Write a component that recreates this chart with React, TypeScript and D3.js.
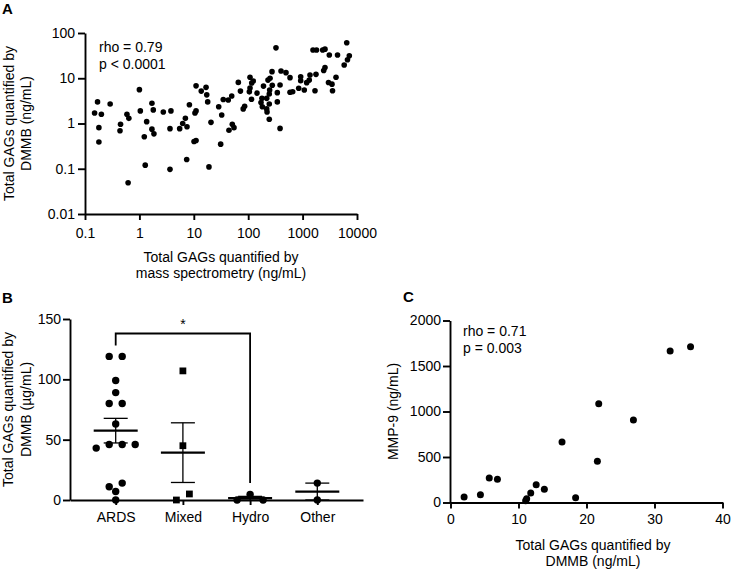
import React, { useEffect, useRef } from "react";
import * as d3 from "d3";

// Panel A: [GAGs by mass spectrometry, GAGs by DMMB] (ng/mL)
const msVsDmmb: [number, number][] = [
  [0.15, 1.7], [0.17, 3.0], [0.2, 1.6], [0.18, 0.81], [0.18, 0.39], [0.29, 2.7],
  [0.45, 0.96], [0.44, 0.69], [0.59, 1.6], [0.64, 1.3], [1.0, 5.6], [1.04, 1.9],
  [1.36, 1.1], [1.23, 0.51], [1.28, 0.12], [0.62, 0.049], [1.7, 2.8], [1.8, 2.0],
  [1.7, 0.75], [1.85, 0.59], [2.75, 1.8], [3.8, 1.9], [3.65, 0.77], [3.65, 0.097],
  [5.5, 0.77], [6.25, 1.0], [7.0, 1.3], [7.5, 0.85], [8.3, 2.6], [7.4, 0.16],
  [11, 6.8], [11, 1.9], [10.5, 1.7], [10.1, 0.4], [11, 0.42], [13.7, 5.2],
  [16.8, 6.3], [17.3, 4.3], [18, 3.0], [20.7, 1.06], [19, 0.11], [28.7, 2.35],
  [32.6, 1.54], [31.2, 0.35], [34.8, 3.4], [43, 3.3], [44.3, 0.71], [51, 0.96],
  [54.8, 0.81], [49.8, 4.05], [65.8, 8.1], [72, 5.2], [86, 2.4], [81, 2.1],
  [108, 10.5], [108, 6.1], [105, 5.0], [116, 7.85], [124, 8.7], [115, 3.44],
  [145, 4.7], [179, 3.6], [191, 6.7], [172, 2.9], [182, 2.35], [219, 2.1],
  [222, 1.8], [219, 3.6], [231, 9.1], [248, 5.5], [244, 1.24], [244, 4.5],
  [244, 2.7], [252, 10], [274, 14], [277, 7.0], [324, 47], [343, 4.8],
  [343, 3.0], [385, 7.1], [401, 14.5], [385, 0.78], [495, 13.3], [587, 10.3],
  [587, 4.9], [657, 5.05], [848, 6.0], [922, 10.8], [922, 8.8], [1074, 5.5],
  [1189, 8.0], [1327, 9.1], [1367, 11.8], [1762, 12.2], [1690, 5.3], [1552, 42],
  [1802, 42], [2340, 42], [2580, 44], [3097, 32.6], [4385, 32.6], [6475, 61],
  [7220, 31.5], [6684, 25.7], [5815, 19.6], [2580, 17.3], [2443, 14.8], [4113, 10.5],
  [2993, 8.05], [3467, 7.4], [3548, 5.3],
];
const ticksAX = [0.1, 1, 10, 100, 1000, 10000];
const ticksAY = [0.01, 0.1, 1, 10, 100];

// Panel B: GAGs by DMMB (µg/mL) per group
const groupNames = ["ARDS", "Mixed", "Hydro", "Other"];
const ardsValues = [119, 119, 99, 89, 80, 80, 63, 46, 46, 46, 43, 14, 11, 7, 0];
const mixedValues = [107, 45, 5, 0];
const hydroValues = [4.5, 0, 0];
const otherValues = [14, 0];
const ticksBY = [0, 50, 100, 150];
// significance bracket ARDS vs Hydro (value units)
const bracketGroups = ["ARDS", "Hydro"];
const bracketLevels = [128, 138, 14]; // left end, top, right end

// Panel C: [GAGs by DMMB, MMP-9] (ng/mL)
const dmmbVsMmp9: [number, number][] = [
  [2, 60], [4.4, 86], [5.7, 269], [6.9, 255], [11.05, 20], [11.2, 42],
  [11.8, 104], [12.6, 196], [13.8, 145], [16.4, 665], [18.4, 53], [21.8, 1086],
  [21.6, 453], [26.9, 907], [32.3, 1665], [35.3, 1712],
];
const ticksCX = [0, 10, 20, 30, 40];
const ticksCY = [0, 500, 1000, 1500, 2000];

const FONT = "'Liberation Sans', Arial, Helvetica, sans-serif";

const styleAxis = (g: any) => {
  g.attr("font-size", 14).attr("font-family", FONT);
  g.select(".domain").attr("stroke-width", 1.9);
  g.selectAll(".tick line").attr("stroke-width", 1.9);
  g.selectAll(".tick text").attr("fill", "#000");
};

const addText = (g: any, x: number, y: number, txt: string, anchor = "start", size = 14, weight = "normal") =>
  g.append("text")
    .attr("x", x).attr("y", y)
    .attr("text-anchor", anchor)
    .attr("font-family", FONT)
    .attr("font-size", size)
    .attr("font-weight", weight)
    .text(txt);

const addYTitle = (g: any, cy: number, lines: string[], baselines: number[]) => {
  lines.forEach((l, i) => {
    g.append("text")
      .attr("transform", `translate(${baselines[i]},${cy}) rotate(-90)`)
      .attr("text-anchor", "middle")
      .attr("font-family", FONT)
      .attr("font-size", 14)
      .text(l);
  });
};

// simple row based beeswarm, like prism scatter dot plots
const swarm = (values: number[], y: any, step: number, minGap: number) => {
  const sorted = [...values].sort((a, b) => b - a);
  const rows: number[][] = [];
  sorted.forEach((v) => {
    const last = rows[rows.length - 1];
    if (last && y(v) - y(last[0]) < minGap) last.push(v);
    else rows.push([v]);
  });
  const out: { v: number; dx: number }[] = [];
  rows.forEach((row) => {
    const n = row.length;
    const slots = d3.range(n)
      .map((k) => (k - (n - 1) / 2) * step)
      .sort((a, b) => Math.abs(a) - Math.abs(b) || b - a);
    row.forEach((v, k) => out.push({ v, dx: slots[k] }));
  });
  return out;
};

const drawPanelA = (svg: any) => {
  const x = d3.scaleLog().domain([0.1, 10000]).range([85, 357]);
  const y = d3.scaleLog().domain([0.01, 100]).range([214, 33]);
  const g = svg.append("g");

  g.append("g").attr("transform", "translate(85,0)")
    .call(d3.axisLeft(y).tickValues(ticksAY).tickFormat((d: any) => String(d)).tickSize(7).tickSizeOuter(0).tickPadding(3))
    .call(styleAxis);
  g.append("g").attr("transform", "translate(0,214)")
    .call(d3.axisBottom(x).tickValues(ticksAX).tickFormat((d: any) => String(d)).tickSize(6).tickSizeOuter(0).tickPadding(8))
    .call(styleAxis);

  g.selectAll("circle.pa").data(msVsDmmb).enter().append("circle")
    .attr("class", "pa")
    .attr("cx", (d: any) => x(d[0]))
    .attr("cy", (d: any) => y(d[1]))
    .attr("r", 2.8)
    .attr("fill", "#000");

  addText(g, 99, 52, "rho = 0.79");
  addText(g, 99, 68.5, "p < 0.0001");
  addText(g, 221, 262, "Total GAGs quantified by", "middle");
  addText(g, 221, 278, "mass spectrometry (ng/mL)", "middle");
  addYTitle(g, 123.5, ["Total GAGs quantified by", "DMMB (ng/mL)"], [14, 31]);
  addText(g, 2, 13.5, "A", "start", 15, "bold");
};

const drawPanelB = (svg: any) => {
  const x = d3.scalePoint().domain(groupNames).range([70, 363]).padding(0.68);
  const y = d3.scaleLinear().domain([0, 150]).range([500, 319]);
  const g = svg.append("g");
  const groups = [ardsValues, mixedValues, hydroValues, otherValues];

  g.append("g").attr("transform", "translate(70,0)")
    .call(d3.axisLeft(y).tickValues(ticksBY).tickFormat((d: any) => String(d)).tickSize(7).tickSizeOuter(0).tickPadding(2))
    .call(styleAxis);
  g.append("g").attr("transform", "translate(0,500)")
    .call(d3.axisBottom(x).tickSize(5).tickSizeOuter(0).tickPadding(7))
    .call(styleAxis);

  groups.forEach((values, i) => {
    const name = groupNames[i];
    const cx = x(name) as number;
    const pts = swarm(values, y, 13, 7.5);
    if (name === "Mixed") {
      g.selectAll(`path.sq${i}`).data(pts).enter().append("path")
        .attr("d", d3.symbol().type(d3.symbolSquare).size(46)())
        .attr("transform", (d: any) => `translate(${cx + d.dx},${y(d.v)})`)
        .attr("fill", "#000");
    } else {
      g.selectAll(`circle.c${i}`).data(pts).enter().append("circle")
        .attr("cx", (d: any) => cx + d.dx)
        .attr("cy", (d: any) => y(d.v))
        .attr("r", 3.7)
        .attr("fill", "#000");
    }
    const m = d3.mean(values) as number;
    const sem = (d3.deviation(values) as number) / Math.sqrt(values.length);
    const hi = m + sem;
    const lo = Math.max(0, m - sem);
    g.append("line").attr("x1", cx).attr("x2", cx).attr("y1", y(lo)).attr("y2", y(hi))
      .attr("stroke", "#000").attr("stroke-width", 1.3);
    [hi, lo].forEach((v) => {
      g.append("line").attr("x1", cx - 12).attr("x2", cx + 12).attr("y1", y(v)).attr("y2", y(v))
        .attr("stroke", "#000").attr("stroke-width", 1.3);
    });
    g.append("line").attr("x1", cx - 22).attr("x2", cx + 22).attr("y1", y(m)).attr("y2", y(m))
      .attr("stroke", "#000").attr("stroke-width", 2.2);
  });

  const bx0 = x(bracketGroups[0]) as number;
  const bx1 = x(bracketGroups[1]) as number;
  const path = d3.path();
  path.moveTo(bx0, y(bracketLevels[0]));
  path.lineTo(bx0, y(bracketLevels[1]));
  path.lineTo(bx1, y(bracketLevels[1]));
  path.lineTo(bx1, y(bracketLevels[2]));
  g.append("path").attr("d", path.toString()).attr("fill", "none")
    .attr("stroke", "#000").attr("stroke-width", 1.8);
  addText(g, (bx0 + bx1) / 2, y(bracketLevels[1]) - 4, "*", "middle");

  addYTitle(g, 409.5, ["Total GAGs quantified by", "DMMB (\u00b5g/mL)"], [12.5, 30.5]);
  addText(g, 2, 303, "B", "start", 15, "bold");
};

const drawPanelC = (svg: any) => {
  const x = d3.scaleLinear().domain([0, 40]).range([450.5, 722.5]);
  const y = d3.scaleLinear().domain([0, 2000]).range([502.5, 320.5]);
  const g = svg.append("g");

  g.append("g").attr("transform", "translate(450,0)")
    .call(d3.axisLeft(y).tickValues(ticksCY).tickFormat((d: any) => String(d)).tickSize(7).tickSizeOuter(0).tickPadding(2))
    .call(styleAxis);
  g.append("g").attr("transform", "translate(0,502.5)")
    .call(d3.axisBottom(x).tickValues(ticksCX).tickFormat((d: any) => String(d)).tickSize(6).tickSizeOuter(0).tickPadding(6))
    .call(styleAxis);

  g.selectAll("circle.pc").data(dmmbVsMmp9).enter().append("circle")
    .attr("class", "pc")
    .attr("cx", (d: any) => x(d[0]))
    .attr("cy", (d: any) => y(d[1]))
    .attr("r", 3.5)
    .attr("fill", "#000");

  addText(g, 463, 336, "rho = 0.71");
  addText(g, 463, 353, "p = 0.003");
  addText(g, 593, 550, "Total GAGs quantified by", "middle");
  addText(g, 593, 566, "DMMB (ng/mL)", "middle");
  addYTitle(g, 411.5, ["MMP-9 (ng/mL)"], [398]);
  addText(g, 403, 302, "C", "start", 15, "bold");
};

const App = () => {
  const svgRef = useRef<SVGSVGElement>(null);

  useEffect(() => {
    if (!svgRef.current) return;
    const svg = d3.select(svgRef.current);
    svg.selectAll("*").remove();
    drawPanelA(svg);
    drawPanelB(svg);
    drawPanelC(svg);
  }, []);

  return (
    <svg
      ref={svgRef}
      width={750}
      height={570}
      style={{ position: "absolute", left: 0, top: 0, background: "#fff" }}
    />
  );
};

export default App;
